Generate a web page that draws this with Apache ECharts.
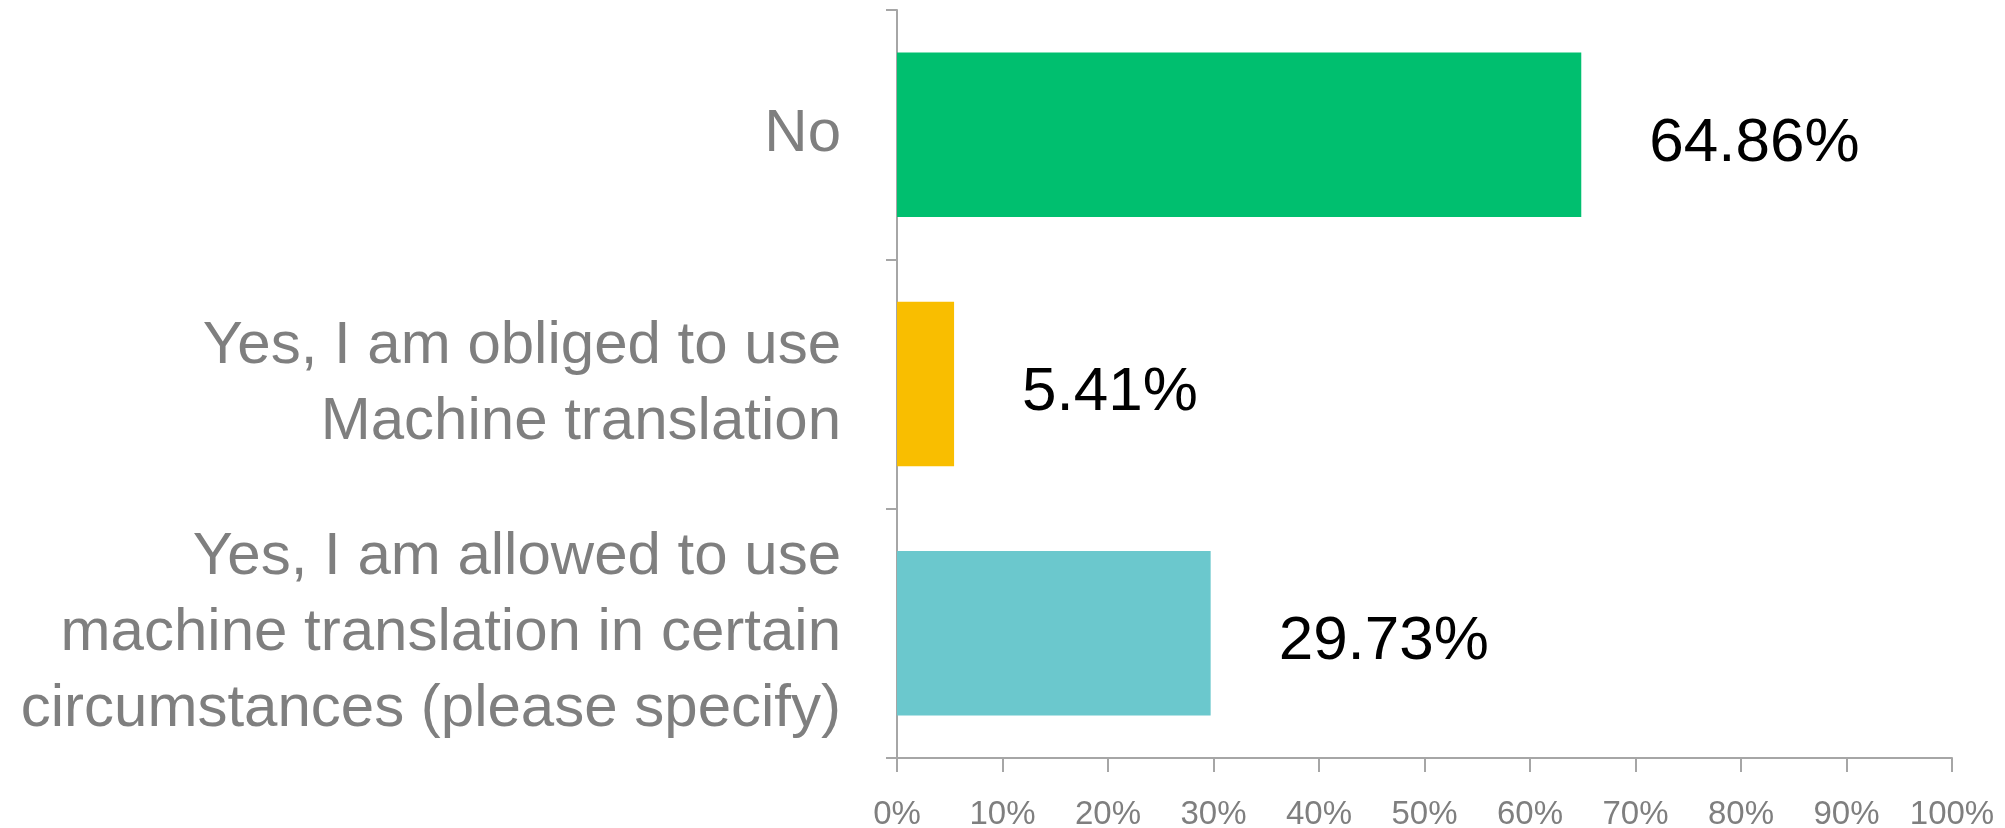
<!DOCTYPE html>
<html>
<head>
<meta charset="utf-8">
<title>Machine translation use</title>
<script src="https://cdn.jsdelivr.net/npm/echarts@6/dist/echarts.min.js"></script>
<style>
  html, body { margin: 0; padding: 0; background: #ffffff; }
  #chart { width: 2005px; height: 828px; }
</style>
</head>
<body>
<div id="chart"></div>
<script>
// Survey answers, top to bottom
const categories = [
  'No',
  'Yes, I am obliged to use\nMachine translation',
  'Yes, I am allowed to use\nmachine translation in certain\ncircumstances (please specify)'
];
const shares = [64.86, 5.41, 29.73];
const barColors = ['#00bf6f', '#f9be00', '#6bc8cd'];
const xTicks = [0, 10, 20, 30, 40, 50, 60, 70, 80, 90, 100];

const axisGray = '#a6a6a6';
const textGray = '#7f7f7f';

const chart = echarts.init(document.getElementById('chart'), null, { renderer: 'canvas' });

chart.setOption({
  animation: false,
  backgroundColor: '#ffffff',
  grid: {
    left: 897, right: 53, top: 10, bottom: 70,
    containLabel: false,
    outerBoundsMode: 'none'
  },
  xAxis: {
    type: 'value',
    min: xTicks[0],
    max: xTicks[xTicks.length - 1],
    interval: 10,
    axisLine: { show: true, lineStyle: { color: axisGray, width: 2 } },
    axisTick: { show: true, length: 14, lineStyle: { color: axisGray, width: 2 } },
    splitLine: { show: false },
    axisLabel: {
      margin: 40,
      color: textGray,
      fontFamily: '"Liberation Sans", Arial, sans-serif',
      fontSize: 33,
      formatter: v => v + '%'
    }
  },
  yAxis: {
    type: 'category',
    inverse: true,
    data: categories,
    axisLine: { show: true, lineStyle: { color: axisGray, width: 2 } },
    axisTick: { show: true, length: 11, lineStyle: { color: axisGray, width: 2 } },
    axisLabel: {
      margin: 56,
      color: textGray,
      fontFamily: '"Liberation Sans", Arial, sans-serif',
      fontSize: 60,
      lineHeight: 76,
      align: 'right'
    }
  },
  series: [{
    type: 'bar',
    data: shares.map((v, i) => ({ value: v, itemStyle: { color: barColors[i] } })),
    barCategoryGap: '34%',
    label: {
      show: true,
      position: 'right',
      distance: 68,
      offset: [0, 9],
      color: '#000000',
      fontFamily: '"Liberation Sans", Arial, sans-serif',
      fontSize: 62,
      formatter: p => p.value.toFixed(2) + '%'
    }
  }]
});
</script>
</body>
</html>
